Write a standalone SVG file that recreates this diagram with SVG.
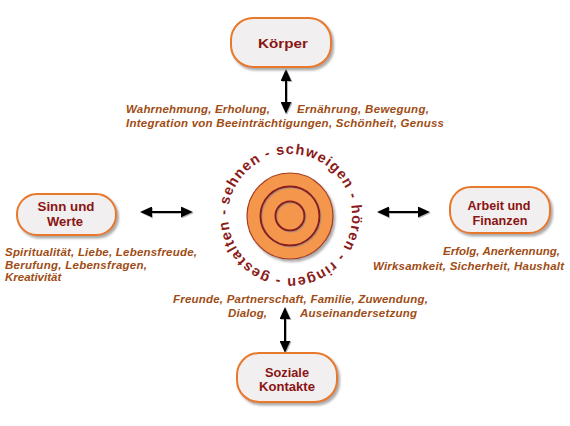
<svg xmlns="http://www.w3.org/2000/svg" width="570" height="426" viewBox="0 0 570 426">
<style>
.box{fill:#f1efef;stroke:#e8782a;stroke-width:2}
.lbl{font-family:"Liberation Sans",Arial,sans-serif;font-size:12.5px;font-weight:bold;fill:#8b1414;text-anchor:middle}
.desc{font-family:"Liberation Sans",Arial,sans-serif;font-size:11.5px;font-weight:bold;font-style:italic;fill:#a04c14}
.arr{stroke:#000;stroke-width:2;fill:none;marker-start:url(#ah);marker-end:url(#ah)}
.ring{font-family:"Liberation Sans",Arial,sans-serif;font-size:14.5px;font-weight:bold;fill:#8b1a1a}
</style>
<defs>
<filter id="sh" x="-20%" y="-20%" width="140%" height="150%">
<feDropShadow dx="2" dy="2.5" stdDeviation="1" flood-color="#888" flood-opacity="0.7"/>
</filter>
<filter id="sh2" x="-20%" y="-50%" width="140%" height="200%">
<feDropShadow dx="1" dy="1" stdDeviation="0.6" flood-color="#888" flood-opacity="0.6"/>
</filter>
<marker id="ah" viewBox="0 0 12 11" refX="4" refY="5.5" markerWidth="12" markerHeight="11" markerUnits="userSpaceOnUse" orient="auto-start-reverse">
<path d="M0,0 L12,5.5 L0,11 z" fill="#000"/>
</marker>
<path id="circ" d="M228.94,205.23 A62,62 0 1,1 351.06,226.77 A62,62 0 1,1 228.94,205.23"/>
</defs>

<g id="connectors" filter="url(#sh2)">
<line class="arr" x1="286" y1="77" x2="286" y2="106"/>
<line class="arr" x1="148" y1="212" x2="185" y2="212"/>
<line class="arr" x1="385" y1="212" x2="422" y2="212"/>
<line class="arr" x1="285" y1="315" x2="285" y2="345"/>
</g>

<g id="node-koerper">
<rect class="box" x="231" y="18" width="100" height="49" rx="22" filter="url(#sh)"/>
<text class="lbl" x="283" y="48" font-size="14" textLength="50" lengthAdjust="spacingAndGlyphs">Körper</text>
</g>

<g id="node-sinn">
<rect class="box" x="17" y="194" width="99" height="41" rx="20" filter="url(#sh)"/>
<text class="lbl" x="66" y="211" textLength="57" lengthAdjust="spacingAndGlyphs">Sinn und</text>
<text class="lbl" x="65" y="226" textLength="36" lengthAdjust="spacingAndGlyphs">Werte</text>
</g>

<g id="node-arbeit">
<rect class="box" x="450" y="187" width="100" height="46" rx="21" filter="url(#sh)"/>
<text class="lbl" x="499" y="210" textLength="63" lengthAdjust="spacingAndGlyphs">Arbeit und</text>
<text class="lbl" x="500" y="225" textLength="55" lengthAdjust="spacingAndGlyphs">Finanzen</text>
</g>

<g id="node-soziale">
<rect class="box" x="237" y="353" width="100" height="49" rx="22" filter="url(#sh)"/>
<text class="lbl" x="287" y="377" textLength="44" lengthAdjust="spacingAndGlyphs">Soziale</text>
<text class="lbl" x="287" y="391" textLength="56" lengthAdjust="spacingAndGlyphs">Kontakte</text>
</g>

<g id="node-center">
<circle cx="290" cy="216" r="43" fill="#f4964c" stroke="#a83a1e" stroke-width="1.2" filter="url(#sh)"/>
<circle cx="290" cy="216" r="29.5" fill="none" stroke="#8b1a1a" stroke-width="2" filter="url(#sh2)"/>
<circle cx="290" cy="216" r="14.5" fill="none" stroke="#8b1a1a" stroke-width="2" filter="url(#sh2)"/>
<text class="ring"><textPath href="#circ" startOffset="0" textLength="384" lengthAdjust="spacing">sehnen - schweigen - hören - ringen - gestalten -</textPath></text>
</g>

<g id="labels">
<text class="desc" x="126" y="113" textLength="144" lengthAdjust="spacing">Wahrnehmung, Erholung,</text>
<text class="desc" x="297" y="113" textLength="132" lengthAdjust="spacing">Ernährung, Bewegung,</text>
<text class="desc" x="126" y="127" textLength="318" lengthAdjust="spacing">Integration von Beeinträchtigungen, Schönheit, Genuss</text>

<text class="desc" x="5" y="256" textLength="192" lengthAdjust="spacing">Spiritualität, Liebe, Lebensfreude,</text>
<text class="desc" x="5" y="268.5" textLength="142" lengthAdjust="spacing">Berufung, Lebensfragen,</text>
<text class="desc" x="5" y="281">Kreativität</text>

<text class="desc" x="443" y="255" textLength="117" lengthAdjust="spacing">Erfolg, Anerkennung,</text>
<text class="desc" x="373" y="270" textLength="191" lengthAdjust="spacing">Wirksamkeit, Sicherheit, Haushalt</text>

<text class="desc" x="173" y="303" textLength="255" lengthAdjust="spacing">Freunde, Partnerschaft, Familie, Zuwendung,</text>
<text class="desc" x="228" y="317" textLength="39" lengthAdjust="spacing">Dialog,</text>
<text class="desc" x="300" y="317" textLength="117" lengthAdjust="spacing">Auseinandersetzung</text>
</g>
</svg>
